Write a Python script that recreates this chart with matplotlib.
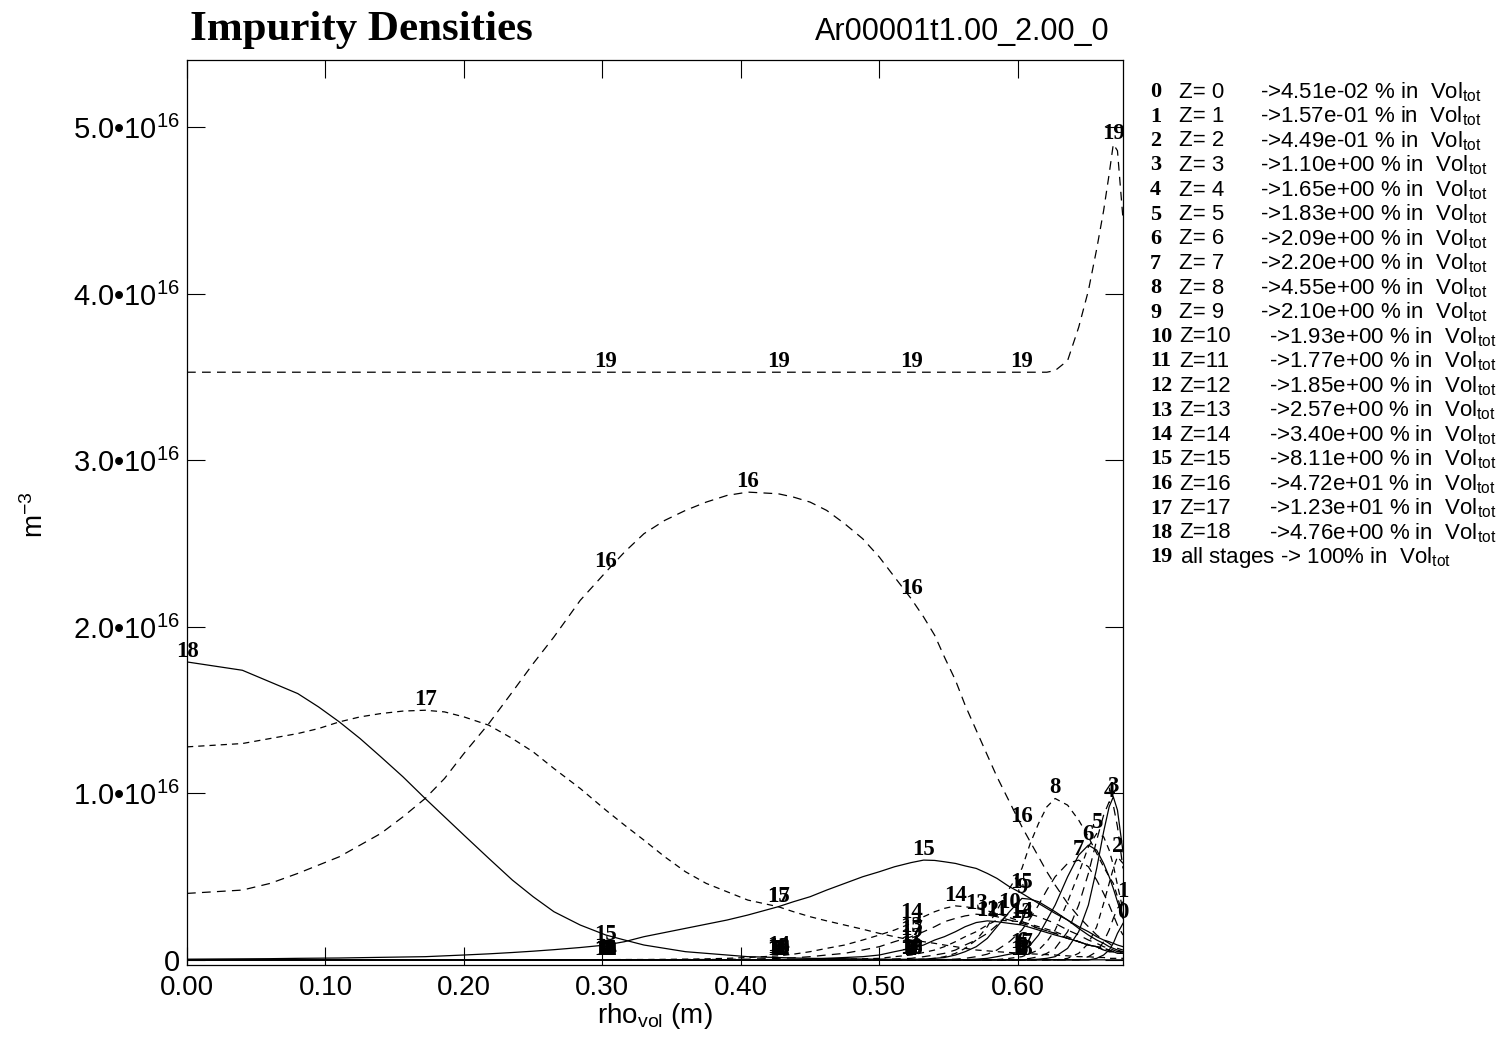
"""Impurity densities per Ar charge stage vs rho_vol, IDL-style plot with inline stage labels."""
import matplotlib
matplotlib.use('Agg')
import matplotlib.pyplot as plt
import numpy as np

plt.rcParams['font.family'] = ['Liberation Sans', 'DejaVu Sans']
plt.rcParams['mathtext.fontset'] = 'custom'
plt.rcParams['mathtext.rm'] = 'Liberation Sans'
plt.rcParams['mathtext.it'] = 'Liberation Sans:italic'
plt.rcParams['mathtext.bf'] = 'Liberation Sans:bold'
plt.rcParams['mathtext.default'] = 'regular'

SERIF = 'Liberation Serif'

# radial grid (m)
rho = [0.000, 0.020, 0.040, 0.060, 0.080, 0.095, 0.110, 0.125, 0.140, 0.156,
       0.172, 0.186, 0.200, 0.218, 0.235, 0.250, 0.265, 0.284, 0.3025, 0.316,
       0.330, 0.345, 0.360, 0.375, 0.390, 0.405, 0.427, 0.438, 0.450, 0.462,
       0.475, 0.488, 0.500, 0.511, 0.523, 0.532, 0.540, 0.547, 0.555, 0.562,
       0.570, 0.578, 0.585, 0.594, 0.603, 0.609, 0.615, 0.621, 0.627, 0.636,
       0.644, 0.651, 0.657, 0.662, 0.666, 0.669, 0.672, 0.676]

# densities in units of 1e16 m^-3, one list per charge stage (rows follow the grid rows)
n0 = [0, 0, 0, 0, 0, 0, 0, 0, 0, 0,
      0, 0, 0, 0, 0, 0, 0, 0, 0, 0,
      0, 0, 0, 0, 0, 0, 0, 0, 0, 0,
      0, 0, 0, 0, 0, 0, 0, 0, 0, 0,
      0, 0, 0, 0, 0, 0, 0, 0, 0, 0,
      0, 0, 0.01, 0.03, 0.06, 0.10, 0.16, 0.22]
n1 = [0, 0, 0, 0, 0, 0, 0, 0, 0, 0,
      0, 0, 0, 0, 0, 0, 0, 0, 0, 0,
      0, 0, 0, 0, 0, 0, 0, 0, 0, 0,
      0, 0, 0, 0, 0, 0, 0, 0, 0, 0,
      0, 0, 0, 0, 0, 0, 0, 0, 0, 0,
      0, 0.02, 0.05, 0.11, 0.18, 0.25, 0.31, 0.35]
n2 = [0, 0, 0, 0, 0, 0, 0, 0, 0, 0,
      0, 0, 0, 0, 0, 0, 0, 0, 0, 0,
      0, 0, 0, 0, 0, 0, 0, 0, 0, 0,
      0, 0, 0, 0, 0, 0, 0, 0, 0, 0,
      0, 0, 0, 0, 0, 0, 0, 0, 0, 0.01,
      0.04, 0.10, 0.20, 0.34, 0.46, 0.55, 0.62, 0.58]
n3 = [0, 0, 0, 0, 0, 0, 0, 0, 0, 0,
      0, 0, 0, 0, 0, 0, 0, 0, 0, 0,
      0, 0, 0, 0, 0, 0, 0, 0, 0, 0,
      0, 0, 0, 0, 0, 0, 0, 0, 0, 0,
      0, 0, 0, 0, 0.001, 0.002, 0.005, 0.01, 0.02, 0.07,
      0.17, 0.33, 0.55, 0.77, 0.92, 0.98, 0.90, 0.65]
n4 = [0, 0, 0, 0, 0, 0, 0, 0, 0, 0,
      0, 0, 0, 0, 0, 0, 0, 0, 0, 0,
      0, 0, 0, 0, 0, 0, 0, 0, 0, 0,
      0, 0, 0, 0, 0, 0, 0, 0, 0, 0,
      0, 0, 0, 0.001, 0.003, 0.01, 0.02, 0.04, 0.07, 0.17,
      0.33, 0.52, 0.72, 0.87, 0.95, 0.93, 0.80, 0.55]
n5 = [0, 0, 0, 0, 0, 0, 0, 0, 0, 0,
      0, 0, 0, 0, 0, 0, 0, 0, 0, 0,
      0, 0, 0, 0, 0, 0, 0, 0, 0, 0,
      0, 0, 0, 0, 0, 0, 0, 0, 0, 0,
      0, 0.001, 0.003, 0.01, 0.02, 0.04, 0.06, 0.11, 0.18, 0.35,
      0.52, 0.68, 0.76, 0.74, 0.66, 0.57, 0.45, 0.30]
n6 = [0, 0, 0, 0, 0, 0, 0, 0, 0, 0,
      0, 0, 0, 0, 0, 0, 0, 0, 0, 0,
      0, 0, 0, 0, 0, 0, 0, 0, 0, 0,
      0, 0, 0, 0, 0, 0, 0, 0, 0, 0.002,
      0.005, 0.01, 0.02, 0.035, 0.05, 0.09, 0.15, 0.24, 0.33, 0.50,
      0.63, 0.69, 0.66, 0.58, 0.50, 0.43, 0.35, 0.25]
n7 = [0, 0, 0, 0, 0, 0, 0, 0, 0, 0,
      0, 0, 0, 0, 0, 0, 0, 0, 0, 0,
      0, 0, 0, 0, 0, 0, 0, 0, 0, 0,
      0, 0, 0, 0, 0, 0, 0, 0.002, 0.005, 0.01,
      0.02, 0.035, 0.06, 0.11, 0.18, 0.25, 0.33, 0.42, 0.50, 0.58,
      0.60, 0.56, 0.48, 0.40, 0.33, 0.27, 0.21, 0.15]
n8 = [0, 0, 0, 0, 0, 0, 0, 0, 0, 0,
      0, 0, 0, 0, 0, 0, 0, 0, 0, 0,
      0, 0, 0, 0, 0, 0, 0, 0, 0, 0,
      0, 0, 0.001, 0.002, 0.003, 0.005, 0.01, 0.02, 0.04, 0.07,
      0.12, 0.20, 0.30, 0.43, 0.55, 0.70, 0.82, 0.92, 0.97, 0.93,
      0.84, 0.74, 0.64, 0.56, 0.50, 0.46, 0.38, 0.26]
n9 = [0, 0, 0, 0, 0, 0, 0, 0, 0, 0,
      0, 0, 0, 0, 0, 0, 0, 0, 0, 0,
      0, 0, 0, 0, 0, 0, 0, 0, 0, 0,
      0.001, 0.001, 0.002, 0.002, 0.003, 0.005, 0.01, 0.015, 0.03, 0.05,
      0.08, 0.13, 0.20, 0.29, 0.37, 0.365, 0.35, 0.32, 0.29, 0.24,
      0.19, 0.15, 0.12, 0.10, 0.08, 0.07, 0.06, 0.05]
n10 = [0, 0, 0, 0, 0, 0, 0, 0, 0, 0,
       0, 0, 0, 0, 0, 0, 0, 0, 0, 0,
       0, 0, 0, 0, 0, 0, 0, 0, 0.001, 0.001,
       0.002, 0.002, 0.003, 0.006, 0.01, 0.02, 0.03, 0.04, 0.06, 0.09,
       0.12, 0.16, 0.21, 0.285, 0.28, 0.275, 0.26, 0.24, 0.22, 0.18,
       0.15, 0.12, 0.10, 0.08, 0.07, 0.06, 0.05, 0.05]
n11 = [0, 0, 0, 0, 0, 0, 0, 0, 0, 0,
       0, 0, 0, 0, 0, 0, 0, 0, 0, 0,
       0, 0, 0, 0, 0, 0, 0.001, 0.001, 0.002, 0.003,
       0.005, 0.007, 0.01, 0.02, 0.03, 0.045, 0.06, 0.08, 0.11, 0.14,
       0.17, 0.21, 0.24, 0.235, 0.23, 0.215, 0.20, 0.185, 0.17, 0.14,
       0.11, 0.09, 0.08, 0.06, 0.05, 0.05, 0.04, 0.04]
n12 = [0, 0, 0, 0, 0, 0, 0, 0, 0, 0,
       0, 0, 0, 0, 0, 0, 0, 0, 0, 0,
       0, 0, 0, 0.001, 0.001, 0.002, 0.003, 0.004, 0.005, 0.01,
       0.015, 0.02, 0.03, 0.05, 0.07, 0.09, 0.12, 0.14, 0.17, 0.20,
       0.225, 0.235, 0.23, 0.22, 0.21, 0.195, 0.18, 0.165, 0.15, 0.13,
       0.11, 0.09, 0.08, 0.06, 0.05, 0.05, 0.04, 0.04]
n13 = [0, 0, 0, 0, 0, 0, 0, 0, 0, 0,
       0, 0, 0, 0, 0, 0, 0, 0, 0.001, 0.001,
       0.002, 0.002, 0.003, 0.003, 0.004, 0.005, 0.01, 0.013, 0.02, 0.03,
       0.04, 0.06, 0.08, 0.11, 0.14, 0.17, 0.20, 0.23, 0.25, 0.265,
       0.275, 0.27, 0.26, 0.24, 0.22, 0.205, 0.19, 0.175, 0.16, 0.13,
       0.11, 0.09, 0.08, 0.07, 0.06, 0.05, 0.05, 0.04]
n14 = [0, 0, 0, 0, 0, 0, 0, 0, 0, 0,
       0, 0, 0, 0, 0, 0, 0, 0.001, 0.002, 0.003,
       0.003, 0.004, 0.005, 0.007, 0.01, 0.015, 0.025, 0.035, 0.05, 0.07,
       0.09, 0.12, 0.15, 0.18, 0.22, 0.26, 0.29, 0.31, 0.325, 0.32,
       0.31, 0.295, 0.28, 0.255, 0.23, 0.21, 0.19, 0.175, 0.16, 0.13,
       0.11, 0.09, 0.08, 0.07, 0.06, 0.05, 0.05, 0.05]
n15 = [0.005, 0.006, 0.007, 0.008, 0.01, 0.011, 0.012, 0.014, 0.016, 0.018,
       0.02, 0.025, 0.03, 0.037, 0.045, 0.053, 0.062, 0.075, 0.09, 0.11,
       0.14, 0.165, 0.19, 0.215, 0.24, 0.27, 0.32, 0.35, 0.38, 0.42,
       0.46, 0.50, 0.53, 0.56, 0.585, 0.60, 0.598, 0.59, 0.58, 0.565,
       0.55, 0.52, 0.49, 0.44, 0.40, 0.37, 0.34, 0.31, 0.28, 0.24,
       0.20, 0.17, 0.14, 0.12, 0.11, 0.10, 0.09, 0.08]
n16 = [0.40, 0.41, 0.42, 0.46, 0.52, 0.57, 0.62, 0.69, 0.76, 0.86,
       0.97, 1.09, 1.24, 1.42, 1.61, 1.78, 1.94, 2.16, 2.33, 2.45,
       2.56, 2.64, 2.70, 2.75, 2.79, 2.81, 2.80, 2.78, 2.75, 2.70,
       2.62, 2.53, 2.42, 2.30, 2.17, 2.06, 1.95, 1.82, 1.68, 1.53,
       1.38, 1.23, 1.10, 0.95, 0.80, 0.71, 0.62, 0.53, 0.45, 0.34,
       0.26, 0.20, 0.15, 0.12, 0.10, 0.08, 0.07, 0.06]
n17 = [1.28, 1.29, 1.30, 1.33, 1.36, 1.39, 1.43, 1.46, 1.48, 1.495,
       1.50, 1.49, 1.46, 1.41, 1.33, 1.25, 1.15, 1.03, 0.90, 0.81,
       0.72, 0.62, 0.53, 0.46, 0.41, 0.36, 0.32, 0.29, 0.26, 0.235,
       0.21, 0.185, 0.16, 0.14, 0.12, 0.11, 0.10, 0.09, 0.08, 0.07,
       0.06, 0.055, 0.05, 0.045, 0.04, 0.037, 0.035, 0.032, 0.03, 0.025,
       0.02, 0.02, 0.015, 0.015, 0.01, 0.01, 0.01, 0.01]
n18 = [1.79, 1.765, 1.74, 1.67, 1.60, 1.52, 1.43, 1.33, 1.22, 1.10,
       0.97, 0.86, 0.75, 0.61, 0.48, 0.38, 0.29, 0.21, 0.15, 0.12,
       0.09, 0.07, 0.05, 0.04, 0.03, 0.02, 0.015, 0.012, 0.01, 0.009,
       0.008, 0.006, 0.005, 0.004, 0.004, 0.003, 0.003, 0.003, 0.003, 0.002,
       0.002, 0.002, 0.002, 0.002, 0.002, 0.002, 0.002, 0.002, 0.002, 0.002,
       0.001, 0.001, 0.001, 0.001, 0.001, 0.001, 0.001, 0.001]
n_all = [3.53, 3.53, 3.53, 3.53, 3.53, 3.53, 3.53, 3.53, 3.53, 3.53,
         3.53, 3.53, 3.53, 3.53, 3.53, 3.53, 3.53, 3.53, 3.53, 3.53,
         3.53, 3.53, 3.53, 3.53, 3.53, 3.53, 3.53, 3.53, 3.53, 3.53,
         3.53, 3.53, 3.53, 3.53, 3.53, 3.53, 3.53, 3.53, 3.53, 3.53,
         3.53, 3.53, 3.53, 3.53, 3.53, 3.53, 3.53, 3.53, 3.54, 3.60,
         3.80, 4.02, 4.27, 4.50, 4.72, 4.90, 4.86, 4.45]

stages = [n0, n1, n2, n3, n4, n5, n6, n7, n8, n9, n10, n11, n12, n13, n14, n15, n16, n17, n18, n_all]

vol_pct = ['4.51e-02', '1.57e-01', '4.49e-01', '1.10e+00', '1.65e+00', '1.83e+00', '2.09e+00',
           '2.20e+00', '4.55e+00', '2.10e+00', '1.93e+00', '1.77e+00', '1.85e+00', '2.57e+00',
           '3.40e+00', '8.11e+00', '4.72e+01', '1.23e+01', '4.76e+00']

# fixed radii where every curve gets its number printed (besides its maximum)
label_rho = [0.3025, 0.427, 0.523, 0.603]
hidden_labels = {17: [0.3025], 18: [0.3025]}

line_styles = ['-', (0, (7, 5)), (0, (5, 4))]

fig = plt.figure(figsize=(15.03, 10.44), dpi=100)
ax = fig.add_axes([187 / 1503, 1 - 965 / 1044, (1123 - 187) / 1503, (965 - 60) / 1044])

r = np.array(rho)
for i, dens in enumerate(stages):
    d = np.array(dens)
    ax.plot(r, d, color='black', lw=0.9, ls=line_styles[i % 3])
    kmax = int(np.argmax(d))
    spots = [kmax]
    for lr in label_rho:
        if lr in hidden_labels.get(i, []):
            continue
        k = rho.index(lr)
        if abs(rho[k] - rho[kmax]) > 0.03:
            spots.append(k)
    for k in spots:
        ax.text(r[k], d[k], str(i), ha='center', va='bottom', fontsize=16.5,
                family=SERIF, weight='bold', clip_on=False, zorder=5)

ax.set_xlim(0, 0.676)
ax.set_ylim(-0.03, 5.405)
ax.set_xticks([0.0, 0.1, 0.2, 0.3, 0.4, 0.5, 0.6])
ax.set_xticklabels(['0.00', '0.10', '0.20', '0.30', '0.40', '0.50', '0.60'])
yt = [0, 1, 2, 3, 4, 5]
ax.set_yticks(yt)
ax.set_yticklabels(['0'] + ['%.1f\u202210$^{16}$' % v for v in yt[1:]])
ax.tick_params(direction='in', length=13, width=0.8, top=True, right=True)
ax.tick_params(axis='x', pad=7, labelsize=20)
ax.tick_params(axis='y', pad=5, labelsize=21)
for s in ax.spines.values():
    s.set_linewidth(0.9)

ax.set_xlabel(r'rho$_{vol}$ (m)', fontsize=20, labelpad=0)
fig.text(35 / 1503, 1 - 515 / 1044, r'm$^{-3}$', rotation=90, fontsize=20,
         ha='center', va='center')

fig.text(190 / 1503, 1 - 40 / 1044, 'Impurity Densities', family=SERIF, weight='bold',
         fontsize=31, ha='left', va='baseline')
fig.text(1110 / 1503, 1 - 40 / 1044, 'Ar00001t1.00_2.00_0', fontsize=22,
         ha='right', va='baseline')

# legend column on the right
for i in range(20):
    yy = 1 - (92 + 24.5 * i) / 1044
    fig.text(1150 / 1503, yy, str(i), family=SERIF, weight='bold', fontsize=16,
             ha='left', va='center')
    if i < 19:
        arrow_x = 1260 if i < 10 else 1269
        fig.text(1179 / 1503, yy, 'Z=%2d' % i, fontsize=16, ha='left', va='center')
        fig.text(arrow_x / 1503, yy, '->%s %% in  Vol$_{tot}$' % vol_pct[i], fontsize=16,
                 ha='left', va='center')
    else:
        fig.text(1180 / 1503, yy, 'all stages -> 100% in  Vol$_{tot}$', fontsize=16,
                 ha='left', va='center')

fig.savefig('out.png', dpi=100)
